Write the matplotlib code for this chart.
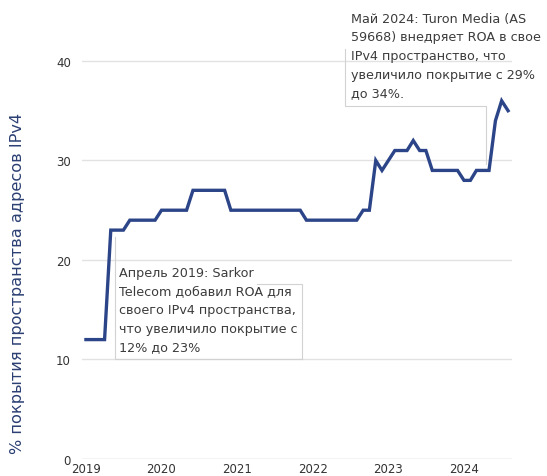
import matplotlib
matplotlib.use("Agg")
import matplotlib.pyplot as plt
import pandas as pd

# dane miesieczne: styczen 2019 - sierpien 2024
miesiace = pd.date_range("2019-01-01", periods=68, freq="MS")
pokrycie = ([12] * 4 + [23] * 3 + [24] * 5 + [25] * 5 + [27] * 6 + [25] * 12 +
            [24] * 9 + [25] * 2 + [30, 29, 30] + [31] * 3 + [32] + [31] * 2 +
            [29] * 5 + [28] * 2 + [29] * 3 + [34, 36, 35])
lata = ["2019", "2020", "2021", "2022", "2023", "2024"]
y_ticks = [0, 10, 20, 30, 40]

tekst_sarkor = ("Апрель 2019: Sarkor\nTelecom добавил ROA для\nсвоего IPv4 пространства,\n"
                "что увеличило покрытие с\n12% до 23%")
tekst_turon = ("Май 2024: Turon Media (AS\n59668) внедряет ROA в свое\nIPv4 пространство, что\n"
               "увеличило покрытие с 29%\nдо 34%.")

W, H = 547, 477
plt.rcParams["font.family"] = ["DejaVu Sans"]
fig = plt.figure(figsize=(W / 100, H / 100), dpi=100)
ax = fig.add_axes([82 / W, 17 / H, (512 - 82) / W, 447.8 / H])

kolor_linii = "#2c4588"
ax.plot(miesiace, pokrycie, color=kolor_linii, lw=2.4, solid_joinstyle="miter", zorder=3)

ax.set_ylim(0, 45)
ax.set_xlim(pd.Timestamp("2018-12-13"), pd.Timestamp("2024-08-20"))
ax.set_yticks(y_ticks)
ax.set_xticks([pd.Timestamp(r + "-01-01") for r in lata])
ax.set_xticklabels(lata)
for y in y_ticks:
    ax.axhline(y, color="#c4c4c4" if y == 0 else "#e2e2e2", lw=1, zorder=1)
for s in ax.spines.values():
    s.set_visible(False)
ax.tick_params(axis="both", length=0, labelsize=8.5, colors="#333333")
ax.tick_params(axis="y", pad=8)
ax.tick_params(axis="x", pad=2)

fig.text(18 / W, 1 - 283 / H, "% покрытия пространства адресов IPv4", rotation=90,
         ha="center", va="center", fontsize=11.6, color="#2b3f73")

# ramki objasnien
def linia(punkty):
    xs = [p[0] / W for p in punkty]
    ys = [1 - p[1] / H for p in punkty]
    fig.add_artist(plt.Line2D(xs, ys, color="#d2d2d2", lw=0.8, zorder=2))

linia([(115, 238), (115, 360), (302, 360), (302, 285), (257, 285)])
linia([(345, 50), (345, 107), (486, 107), (486, 165)])

fig.text(119 / W, 1 - 267 / H, tekst_sarkor, ha="left", va="top", fontsize=9.2,
         color="#3c3c3c", linespacing=1.55)
fig.text(351 / W, 1 - 13 / H, tekst_turon, ha="left", va="top", fontsize=9.2,
         color="#3c3c3c", linespacing=1.55)

fig.savefig("out.png", dpi=100)
